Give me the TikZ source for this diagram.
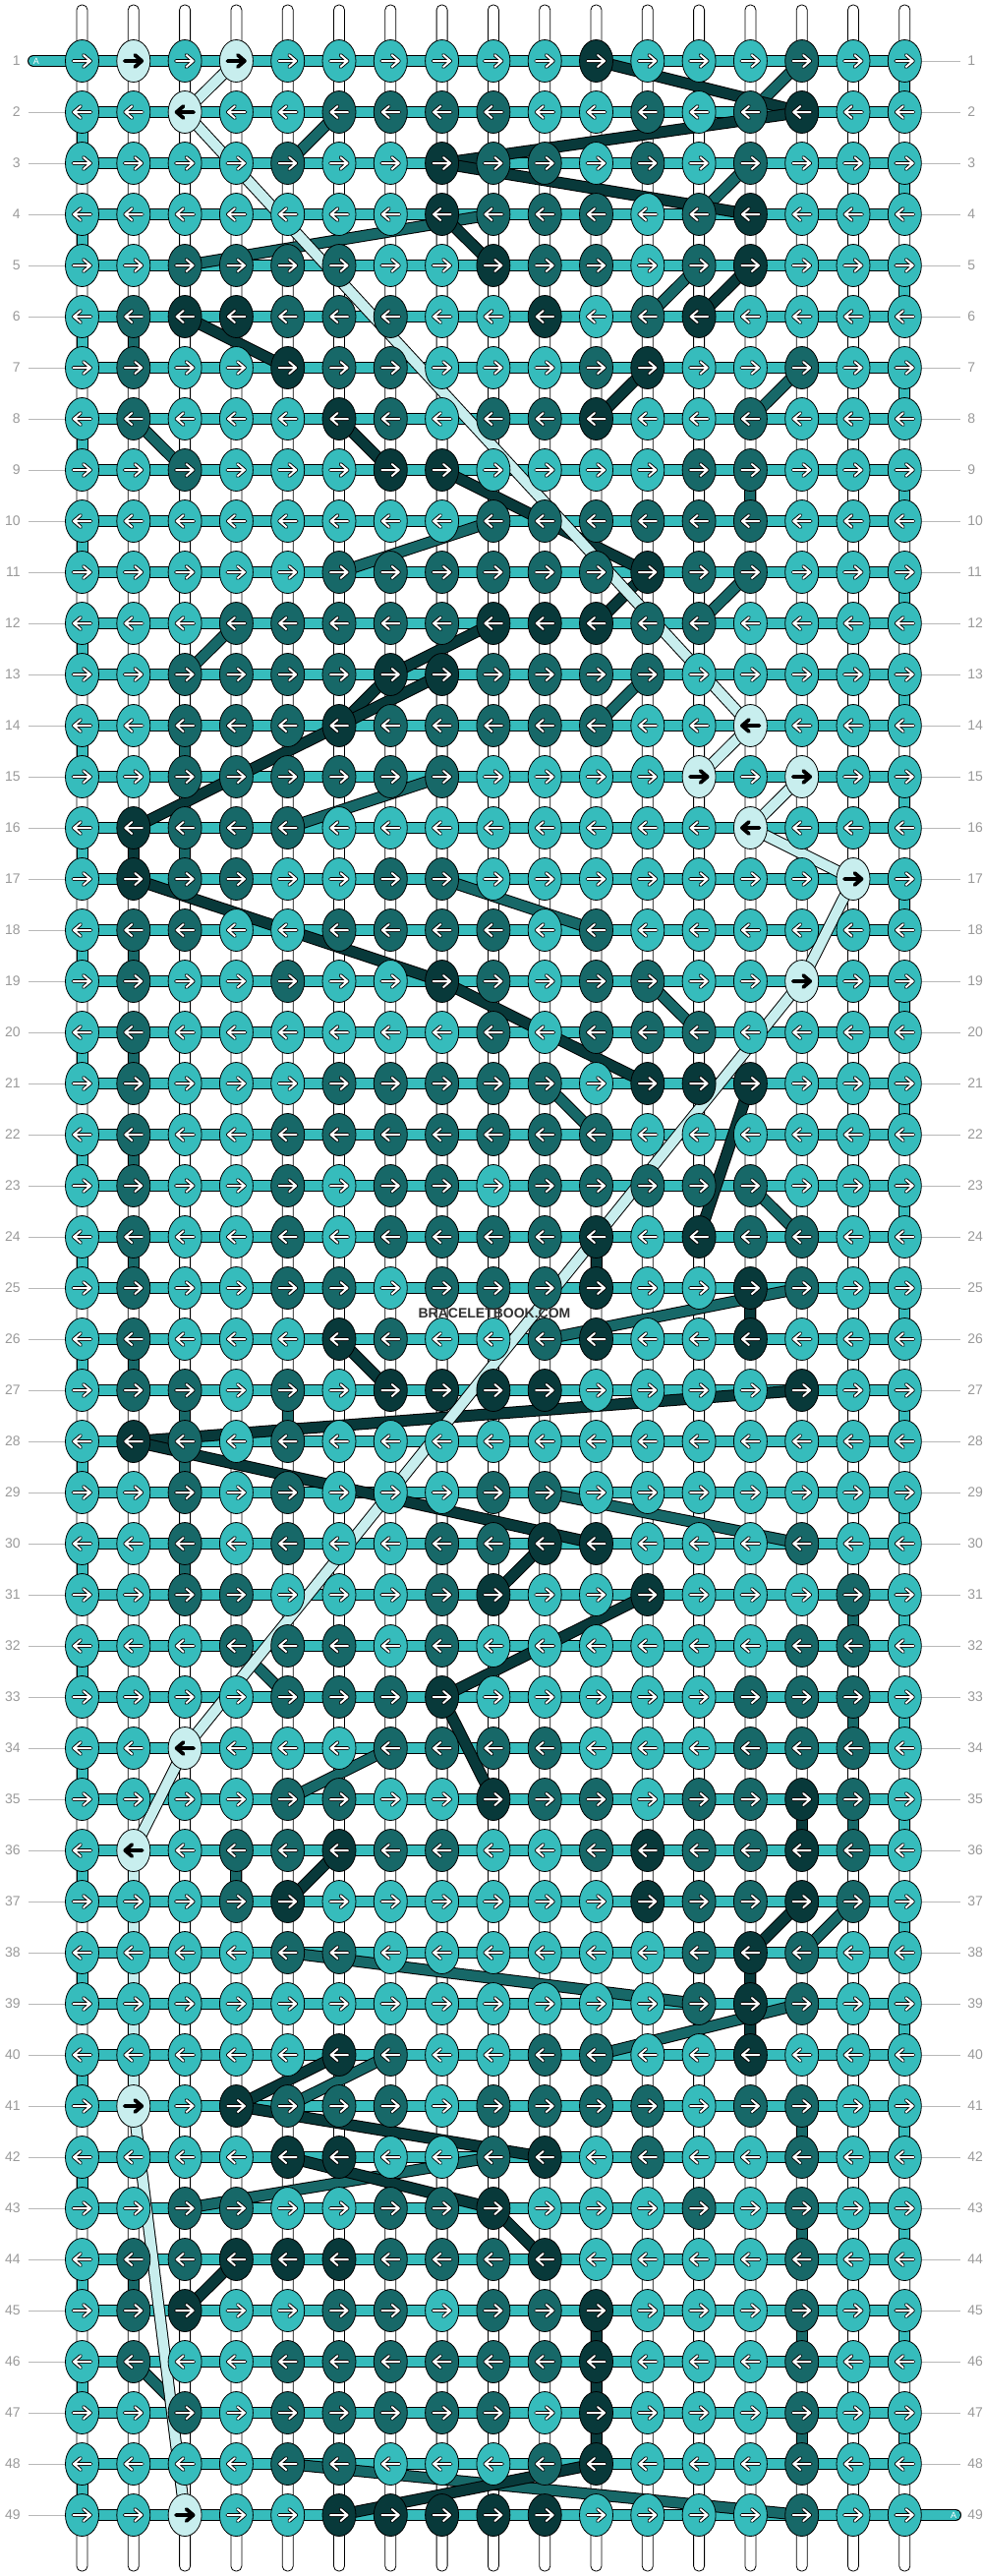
\documentclass[tikz,border=0pt]{standalone}
\usepackage{fontspec}
\setmainfont{Liberation Sans}
\usetikzlibrary{shapes.geometric}

\definecolor{colL}{HTML}{36BCBC}
\definecolor{colM}{HTML}{176868}
\definecolor{colD}{HTML}{08393A}
\definecolor{colP}{HTML}{C8EEEE}
\colorlet{tipL}{white}
\colorlet{tipM}{white}
\colorlet{tipD}{white}
\colorlet{tipP}{black}
\definecolor{RowGray}{HTML}{9A9A9A}
\definecolor{RuleGray}{HTML}{B8B8B8}

\begin{document}
\begin{tikzpicture}[x=0.5pt,y=-0.5pt,
  Knot/.style={ellipse,draw=black,line width=0.4pt,minimum width=17pt,
               minimum height=21.5pt,inner sep=0pt},
  RowLabel/.style={text=RowGray,font=\fontsize{7}{8}\selectfont,inner sep=0pt},
  TipEdge/.style={line width=1.9pt,line cap=round,line join=round},
  TipFill/.style={line width=1pt,line cap=round,line join=round},
  StrandEdge/.style={line width=6pt,black},
  StrandFill/.style={line width=5pt}]

\fill[white] (0,0) rectangle (1000,2620);
\useasboundingbox (0,0) rectangle (1000,2620);

% knot places
\foreach \r in {1,...,49}{
  \foreach \c in {1,...,17}{
    \coordinate (p-\r-\c) at ({83.5+52.3*(\c-1)},{62+52*(\r-1)});
  }
}

% vertical strings
\foreach \c in {1,...,17}{
  \coordinate (top-\c) at ({83.5+52.3*(\c-1)-5.5},5);
  \coordinate (bot-\c) at ({83.5+52.3*(\c-1)+5.5},2615);
  \draw[fill=white,line width=0.4pt,rounded corners=2.5pt] (top-\c) rectangle (bot-\c);
}

% row numbers
\foreach \r in {1,...,49}{
  \node[RowLabel,anchor=east] (ll-\r) at (21,{62+52*(\r-1)}) {\r};
  \node[RowLabel,anchor=west] (rl-\r) at (984,{62+52*(\r-1)}) {\r};
  \coordinate (gl-\r) at (29,{62+52*(\r-1)});
  \coordinate (gr-\r) at (977,{62+52*(\r-1)});
}
\foreach \r in {2,...,49} \draw[RuleGray,line width=0.5pt] (gl-\r) -- (p-\r-1);
\foreach \r in {1,...,48} \draw[RuleGray,line width=0.5pt] (p-\r-17) -- (gr-\r);

% working string
\coordinate (start) at (34,62);
\coordinate (finish) at (972,2558);
\draw[line width=6pt,line cap=round] (start) -- (p-1-1);
\draw[line width=6pt,line cap=round] (p-49-17) -- (finish);
\foreach \r in {1,...,49} \draw[line width=6pt,line cap=rect] (p-\r-1) -- (p-\r-17);
\foreach \r in {1,...,48}{
  \pgfmathtruncatemacro{\n}{\r+1}
  \ifodd\r\relax\def\e{17}\else\def\e{1}\fi
  \draw[line width=6pt,line cap=rect] (p-\r-\e) -- (p-\n-\e);
}
\draw[colL,line width=5pt,line cap=round] (start) -- (p-1-1);
\draw[colL,line width=5pt,line cap=round] (p-49-17) -- (finish);
\foreach \r in {1,...,49} \draw[colL,line width=5pt,line cap=rect] (p-\r-1) -- (p-\r-17);
\foreach \r in {1,...,48}{
  \pgfmathtruncatemacro{\n}{\r+1}
  \ifodd\r\relax\def\e{17}\else\def\e{1}\fi
  \draw[colL,line width=5pt,line cap=rect] (p-\r-\e) -- (p-\n-\e);
}
\node[white,font=\fontsize{4.5}{5}\selectfont,inner sep=0pt] (a-start) at (37,62) {A};
\node[white,font=\fontsize{4.5}{5}\selectfont,inner sep=0pt] (a-finish) at (970,2558) {A};

% coloured strands
\foreach \s/\ra/\ca/\rb/\cb in {
  M/1/15/2/14, M/2/6/3/5, M/3/14/4/13, M/4/9/5/3, M/5/13/6/12, M/6/2/7/2,
  M/7/15/8/14, M/8/2/9/3, M/9/14/10/14, M/10/9/11/6, M/11/14/12/13,
  M/12/4/13/3, M/13/12/14/11, M/14/3/15/3, M/16/3/17/3, M/15/8/16/5,
  M/17/8/18/11, M/18/2/19/2, M/20/2/21/2, M/19/12/20/13, M/21/10/22/11,
  M/22/2/23/2, M/24/2/25/2, M/23/14/24/15, M/25/15/26/10, M/26/2/27/2,
  M/27/3/28/3, M/28/3/29/3, M/27/5/28/5, M/29/10/30/15, M/30/3/31/3,
  M/31/16/32/16, M/33/16/34/16, M/35/16/36/16, M/32/4/33/5, M/34/7/35/5,
  M/36/4/37/4, M/37/16/38/15, M/38/5/39/13, M/39/15/40/11, M/40/7/41/5,
  M/41/15/42/15, M/43/15/44/15, M/45/15/46/15, M/47/15/48/15,
  M/42/9/43/3, M/44/2/45/2, M/46/2/47/3, M/48/5/49/15,
  D/1/11/2/15, D/2/15/3/8, D/3/8/4/14, D/4/8/5/9, D/5/14/6/13, D/6/3/7/5,
  D/7/12/8/11, D/8/6/9/7, D/9/8/11/12, D/11/12/12/11, D/12/9/13/7,
  D/13/7/14/6, D/13/8/16/2, D/16/2/17/2, D/17/2/19/8, D/19/8/21/12,
  D/21/14/24/13, D/24/11/25/11, D/25/14/26/14, D/26/6/27/7, D/27/15/28/2,
  D/28/2/30/11, D/30/10/31/9, D/31/12/33/8, D/33/8/35/9, D/35/15/36/15,
  D/36/6/37/5, D/37/15/38/14, D/38/14/39/14, D/39/14/40/14, D/40/6/41/4,
  D/41/4/42/10, D/42/5/43/9, D/43/9/44/10, D/44/4/45/3, D/45/11/46/11,
  D/46/11/47/11, D/47/11/48/11, D/48/11/49/6,
  P/1/4/2/3, P/2/3/14/14, P/14/14/15/13, P/15/15/16/14, P/16/14/17/16,
  P/17/16/19/15, P/19/15/34/3, P/34/3/36/2, P/36/2/41/2, P/41/2/49/3}{
  \draw[StrandEdge] (p-\ra-\ca) -- (p-\rb-\cb);
  \draw[StrandFill,col\s] (p-\ra-\ca) -- (p-\rb-\cb);
}

% knots, one line per row
\foreach \r/\knots in {
  1/{L,P,L,P,L,L,L,L,L,L,D,L,L,L,M,L,L},
  2/{L,L,P,L,L,M,M,M,M,L,L,M,L,M,D,L,L},
  3/{L,L,L,L,M,L,L,D,M,M,L,M,L,M,L,L,L},
  4/{L,L,L,L,L,L,L,D,M,M,M,L,M,D,L,L,L},
  5/{L,L,M,M,M,M,L,L,D,M,M,L,M,D,L,L,L},
  6/{L,M,D,D,M,M,M,L,L,D,L,M,D,L,L,L,L},
  7/{L,M,L,L,D,M,M,L,L,L,M,D,L,L,M,L,L},
  8/{L,M,L,L,L,D,M,L,M,M,D,L,L,M,L,L,L},
  9/{L,L,M,L,L,L,D,D,L,L,L,L,M,M,L,L,L},
  10/{L,L,L,L,L,L,L,L,M,M,M,M,M,M,L,L,L},
  11/{L,L,L,L,L,M,M,M,M,M,M,D,M,M,L,L,L},
  12/{L,L,L,M,M,M,M,M,D,D,D,M,M,L,L,L,L},
  13/{L,L,M,M,M,M,D,D,M,M,M,M,L,L,L,L,L},
  14/{L,L,M,M,M,D,M,M,M,M,M,L,L,P,L,L,L},
  15/{L,L,M,M,M,M,M,M,L,L,L,L,P,L,P,L,L},
  16/{L,D,M,M,M,L,L,L,L,L,L,L,L,P,L,L,L},
  17/{L,D,M,M,L,L,M,M,L,L,L,L,L,L,L,P,L},
  18/{L,M,M,L,L,M,M,M,M,L,M,L,L,L,L,L,L},
  19/{L,M,L,L,M,L,L,D,M,L,M,M,L,L,P,L,L},
  20/{L,M,L,L,L,L,L,L,M,L,M,M,M,L,L,L,L},
  21/{L,M,L,L,L,M,M,M,M,M,L,D,D,D,L,L,L},
  22/{L,M,L,L,M,M,M,M,M,M,M,L,L,L,L,L,L},
  23/{L,M,L,L,M,L,M,M,L,M,M,M,M,M,L,L,L},
  24/{L,M,L,L,M,L,M,M,M,M,D,L,D,M,M,L,L},
  25/{L,M,L,L,M,M,L,M,M,M,D,L,L,D,M,L,L},
  26/{L,M,L,L,L,D,M,L,L,M,D,L,L,D,L,L,L},
  27/{L,M,M,L,M,L,D,D,D,D,L,L,L,L,D,L,L},
  28/{L,D,M,L,M,L,L,L,L,L,L,L,L,L,L,L,L},
  29/{L,L,M,L,M,L,L,L,M,M,L,L,L,L,L,L,L},
  30/{L,L,M,L,M,L,L,M,M,D,D,L,L,L,M,L,L},
  31/{L,L,M,M,L,L,L,M,D,L,L,D,L,L,L,M,L},
  32/{L,L,L,M,M,M,L,M,L,L,L,L,L,L,M,M,L},
  33/{L,L,L,L,M,M,M,D,L,L,L,L,L,M,M,M,L},
  34/{L,L,P,L,L,L,M,M,M,M,L,L,L,M,M,M,L},
  35/{L,L,L,L,M,M,L,L,D,M,M,L,M,M,D,M,L},
  36/{L,P,L,M,M,D,M,M,L,L,M,D,M,M,D,M,L},
  37/{L,L,L,M,D,L,L,L,L,L,L,D,M,M,D,M,L},
  38/{L,L,L,L,M,M,L,L,L,L,L,L,M,D,M,L,L},
  39/{L,L,L,L,L,L,L,L,L,L,L,L,M,D,M,L,L},
  40/{L,L,L,L,L,D,M,L,L,M,M,L,L,D,L,L,L},
  41/{L,P,L,D,M,M,M,L,M,M,M,M,L,M,M,L,L},
  42/{L,L,L,L,D,D,L,L,M,D,L,M,L,L,M,L,L},
  43/{L,L,M,M,L,L,M,M,D,L,L,L,M,L,M,L,L},
  44/{L,M,M,D,D,D,M,M,M,D,L,L,L,L,M,L,L},
  45/{L,M,D,L,L,M,M,L,M,M,D,L,L,L,M,L,L},
  46/{L,M,L,L,M,M,M,M,M,M,D,L,L,L,M,L,L},
  47/{L,L,M,L,M,M,M,M,M,L,D,L,L,L,M,L,L},
  48/{L,L,L,L,M,M,L,L,L,M,D,L,L,L,M,L,L},
  49/{L,L,P,L,L,D,D,D,D,D,L,L,L,L,M,L,L}}{
  \ifodd\r\relax\def\dir{1}\else\def\dir{-1}\fi
  \foreach \k [count=\c] in \knots {
    \node[Knot,fill=col\k] (k-\r-\c) at (p-\r-\c) {};
    \draw[TipEdge,shift={(p-\r-\c)},xscale=\dir]
      (-9,0) -- (8.5,0) (1.5,-6) -- (8.5,0) -- (1.5,6);
    \draw[TipFill,tip\k,shift={(p-\r-\c)},xscale=\dir]
      (-9,0) -- (8.5,0) (1.5,-6) -- (8.5,0) -- (1.5,6);
  }
}

\node[text=black!80,font=\bfseries\fontsize{7}{8}\selectfont,inner sep=0pt] (brand) at (503,1336) {BRACELETBOOK.COM};

\end{tikzpicture}
\end{document}
